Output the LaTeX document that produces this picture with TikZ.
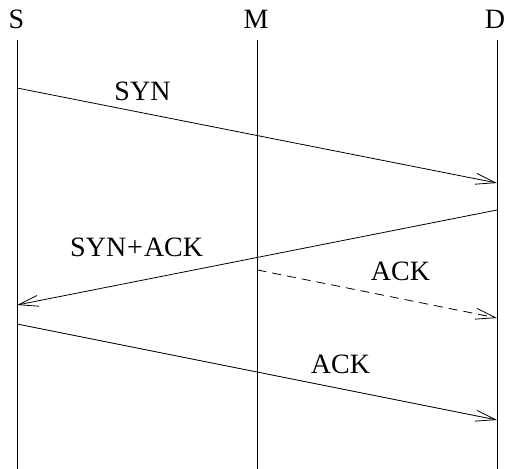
\documentclass[tikz,border=0pt]{standalone}
\usepackage{fontspec}
\setmainfont{Liberation Serif}
\usetikzlibrary{arrows.meta}
\begin{document}
\begin{tikzpicture}[x=1pt,y=-1pt,
  lbl/.style={inner sep=0pt,font=\fontsize{28}{32}\selectfont},
  life/.style={line width=0.8pt},
  msg/.style={line width=0.8pt,-{Straight Barb[length=20pt,width=11pt,line width=0.8pt]}},
  dashmsg/.style={msg,dash pattern=on 9pt off 6pt}]
\useasboundingbox (0,0) rectangle (507,469);
\node[lbl,anchor=base] (S) at (16.5,28.5) {S};
\node[lbl,anchor=base] (M) at (256,28.5) {M};
\node[lbl,anchor=base] (D) at (495,28.5) {D};
\coordinate (St) at (17,40); \coordinate (Sb) at (17,469);
\coordinate (Mt) at (257.5,40); \coordinate (Mb) at (257.5,469);
\coordinate (Dt) at (497,40); \coordinate (Db) at (497,469);
\draw[life] (St) -- (Sb);
\draw[life] (Mt) -- (Mb);
\draw[life] (Dt) -- (Db);
\coordinate (a1) at (17,88); \coordinate (a2) at (497,183);
\coordinate (b1) at (497,210); \coordinate (b2) at (17,305);
\coordinate (c1) at (257.5,270); \coordinate (c2) at (497,318);
\coordinate (d1) at (17,324); \coordinate (d2) at (497,420);
\draw[msg] (a1) -- (a2);
\draw[msg] (b1) -- (b2);
\draw[dashmsg] (c1) -- (c2);
\draw[msg] (d1) -- (d2);
\node[lbl,anchor=base] (l1) at (142.5,100) {SYN};
\node[lbl,anchor=base] (l2) at (136.7,256.5) {SYN\hspace{1pt}+\hspace{1pt}ACK};
\node[lbl,anchor=base] (l3) at (400.5,280) {ACK};
\node[lbl,anchor=base] (l4) at (340.5,373) {ACK};
\end{tikzpicture}
\end{document}
